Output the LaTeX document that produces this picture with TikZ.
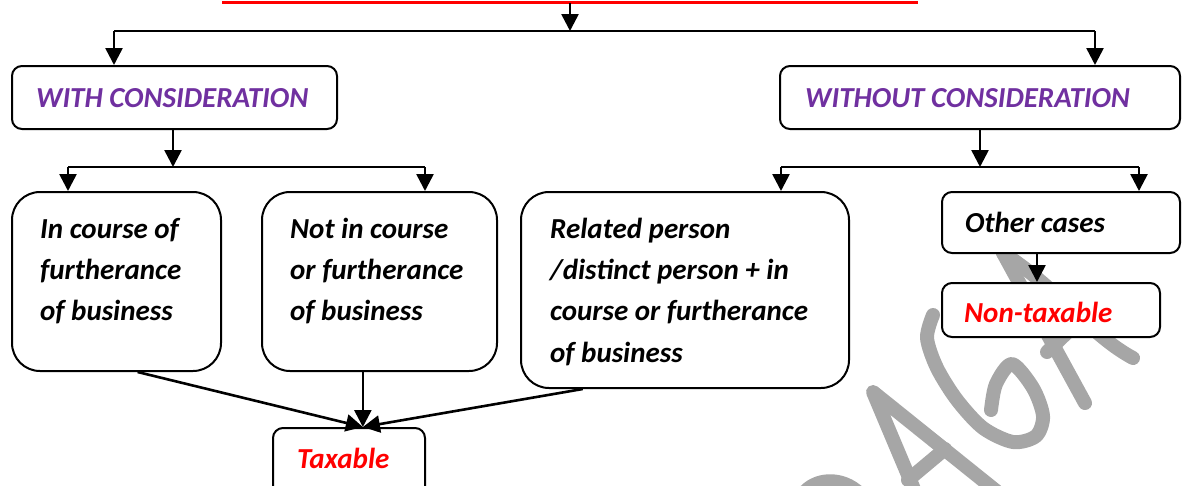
\documentclass[tikz,border=0pt]{standalone}
\usepackage{fontspec}
\setmainfont{Carlito}
\usetikzlibrary{arrows.meta,calc}
\definecolor{headpurple}{HTML}{7030A0}
\definecolor{wmgray}{HTML}{A6A6A6}
\definecolor{hotred}{HTML}{FF0000}

\begin{document}
\begin{tikzpicture}[x=1pt,y=-1pt,
  box/.style={draw=black, line width=2pt, fill=white, rounded corners=10pt, inner sep=0pt},
  bigbox/.style={box, rounded corners=28pt},
  % multi-line labels are placed by the baseline of their last line
  lbl/.style={font=\fontsize{29}{41.3}\selectfont\bfseries\itshape, anchor=base west,
              inner sep=0pt, align=left},
  conn/.style={line width=2.6pt},
  arr/.style={conn, -{Triangle[length=17pt,width=17pt]}},
  wm/.style={draw=wmgray, line width=14pt, line cap=round, line join=round}
]
\useasboundingbox (0,0) rectangle (1182,485);

% watermark strokes in the background
\draw[wm] (803,494) .. controls (815,478) and (842,476) .. (860,494);
\draw[wm] (916,494) -- (873,392) -- (1000,494);
\draw[wm] (908,480) -- (945,449);
\draw[wm] plot[smooth] coordinates {(933,315) (927,338) (937,368) (957,400) (983,428)
  (1013,442) (1036,436) (1043,416) (1033,388) (1012,364) (996,384) (991,410)};
\draw[wm] (1003,253) -- (1085,403);
\draw[wm] (1003,253) .. controls (1060,290) and (1090,335) .. (1133,358);
\draw[wm] (1047,352) -- (1075,325);

% title rule and the first split
\coordinate (rl) at (222,2.5);
\coordinate (rr) at (918,2.5);
\draw[hotred, line width=3.5pt] (rl) -- (rr);
\coordinate (top) at (570,2.5);
\coordinate (bar) at (570,31);
\coordinate (barl) at (114,31);
\coordinate (barr) at (1095,31);

\node[box, minimum width=325pt, minimum height=63pt] (with) at (174.5,97.5) {};
\node[box, minimum width=400pt, minimum height=63pt] (without) at (980,97.5) {};
\node[lbl, text=headpurple] (withtxt) at (36,107) {WITH CONSIDERATION};
\node[lbl, text=headpurple] (withouttxt) at (805,107) {WITHOUT CONSIDERATION};

\draw[arr] (top) -- (bar);
\draw[conn] (barl) -- (barr);
\draw[arr] (barl) -- (barl |- with.north);
\draw[arr] (barr) -- (barr |- without.north);

% with consideration branch
\node[bigbox, minimum width=209pt, minimum height=179pt] (b1) at (116.5,281.5) {};
\node[bigbox, minimum width=235pt, minimum height=179pt] (b2) at (379.5,281.5) {};
\node[lbl] (b1txt) at (40,320.6) {In course of\\furtherance\\of business};
\node[lbl] (b2txt) at (290,320.6) {Not in course\\or furtherance\\of business};

\coordinate (j1) at (173,167);
\coordinate (j1l) at (68,167);
\coordinate (j1r) at (425,167);
\draw[arr] (with.south -| j1) -- (j1);
\draw[conn] (j1l) -- (j1r);
\draw[arr] (j1l) -- (j1l |- b1.north);
\draw[arr] (j1r) -- (j1r |- b2.north);

% without consideration branch
\node[bigbox, minimum width=328pt, minimum height=196pt] (b3) at (685,290) {};
\node[lbl] (b3txt) at (550,362) {Related person\\/distinct person + in\\course or furtherance\\of business};
\node[box, minimum width=238pt, minimum height=61pt] (other) at (1061,222.5) {};
\node[lbl] (othertxt) at (965,232) {Other cases};
\node[box, minimum width=218pt, minimum height=54pt] (nontax) at (1051,310) {};
\node[lbl, text=hotred] (nontaxtxt) at (964,322) {Non-taxable};

\coordinate (j2) at (980,167);
\coordinate (j2l) at (781,167);
\coordinate (j2r) at (1139,167);
\draw[arr] (without.south -| j2) -- (j2);
\draw[conn] (j2l) -- (j2r);
\draw[arr] (j2l) -- (j2l |- b3.north);
\draw[arr] (j2r) -- (j2r |- other.north);
\coordinate (oc) at ($(other.south west)!0.4!(other.south east)$);
\draw[arr] (oc) -- (oc |- nontax.north);

% common outcome
\node[box, minimum width=152pt, minimum height=72pt] (taxable) at (349,464) {};
\node[lbl, text=hotred] (taxabletxt) at (297,468) {Taxable};
\coordinate (tin) at ($(taxable.north west)!0.59!(taxable.north east)$);
\draw[arr] ($(b1.south west)!0.6!(b1.south east)$) -- (tin);
\draw[arr] (b2.south -| tin) -- (tin);
\draw[arr] ($(b3.south west)!0.19!(b3.south east)$) -- (tin);
\end{tikzpicture}
\end{document}
